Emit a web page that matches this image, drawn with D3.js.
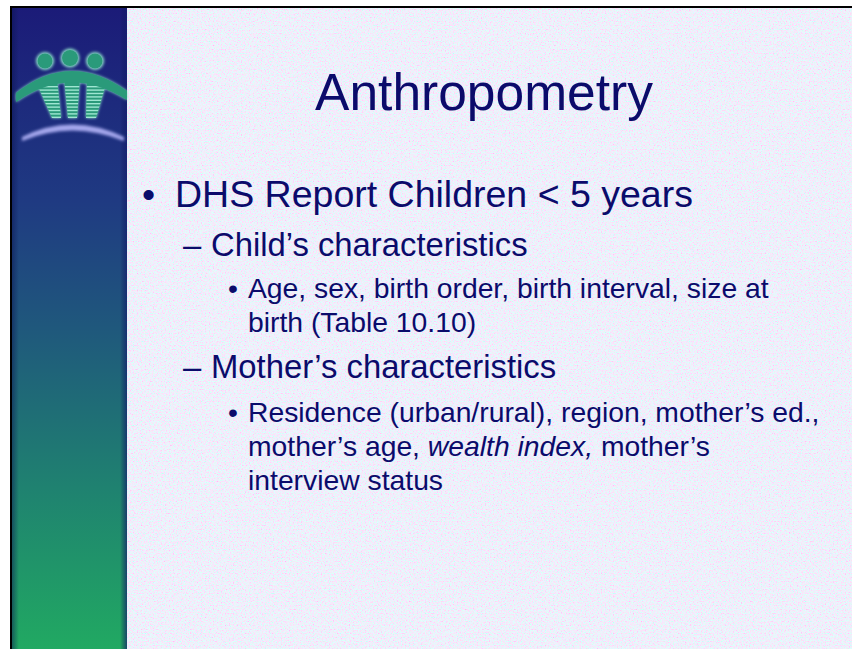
<!DOCTYPE html>
<html>
<head>
<meta charset="utf-8">
<script src="https://cdn.jsdelivr.net/npm/d3@7"></script>
<style>
  html, body { margin: 0; padding: 0; background: #fff; }
  text { font-family: "Liberation Sans", Arial, sans-serif; }
</style>
</head>
<body>
<div class="canvas"></div>
<script>
const svgWidth = 852;
const svgHeight = 649;

// slide content
const titleText = 'Anthropometry';
const lineLevels = [1, 2, 3, 3, 2, 3, 3, 3];
const lineMarks = [true, true, true, false, true, true, false, false];
const lineTexts = [
    [['DHS Report Children < 5 years', false]],
    [['Child\u2019s characteristics', false]],
    [['Age, sex, birth order, birth interval, size at', false]],
    [['birth (Table 10.10)', false]],
    [['Mother\u2019s characteristics', false]],
    [['Residence (urban/rural), region, mother\u2019s ed.,', false]],
    [['mother\u2019s age, ', false], ['wealth index,', true], [' mother\u2019s', false]],
    [['interview status', false]]
];
const baselines = [207, 256, 298, 332, 378, 422, 456, 490];

// per-level style
const levels = {
    1: { mark: '\u2022', markX: 142, textX: 175, size: 37.5 },
    2: { mark: '\u2013', markX: 183, textX: 211, size: 32.8 },
    3: { mark: '\u2022', markX: 228, textX: 248, size: 28.3 }
};

const ink = '#0b0b6b';

const svg = d3.select('.canvas')
    .append('svg')
        .attr('width', svgWidth)
        .attr('height', svgHeight);

const defs = svg.append('defs');

// speckled pink / cyan background
const noise = defs.append('filter')
    .attr('id', 'noise')
    .attr('x', 0).attr('y', 0).attr('width', '100%').attr('height', '100%');
noise.append('feTurbulence')
    .attr('type', 'fractalNoise')
    .attr('baseFrequency', 0.75)
    .attr('numOctaves', 1)
    .attr('seed', 7)
    .attr('result', 't');
noise.append('feColorMatrix')
    .attr('in', 't')
    .attr('type', 'matrix')
    .attr('values', '1.1 0 0 0 0.31  -1.1 0 0 0 1.42  0 0.3 0 0 0.81  0 0 0 0 1');

const barGrad = defs.append('linearGradient')
    .attr('id', 'bar')
    .attr('x1', 0).attr('y1', 0).attr('x2', 0).attr('y2', 1);
[[0, '#1b1b78'], [0.3, '#1f3a82'], [0.5, '#1f587c'], [0.75, '#1f8270'], [1, '#21a962']]
    .forEach(s => barGrad.append('stop').attr('offset', s[0]).attr('stop-color', s[1]));

const edgeGrad = defs.append('linearGradient')
    .attr('id', 'edge')
    .attr('x1', 0).attr('y1', 0).attr('x2', 1).attr('y2', 0);
[[0, 'rgba(10,20,80,0.5)'], [0.06, 'rgba(10,20,80,0)'], [0.94, 'rgba(10,20,80,0)'], [1, 'rgba(20,30,110,0.7)']]
    .forEach(s => edgeGrad.append('stop').attr('offset', s[0]).attr('stop-color', s[1]));

const glow = defs.append('filter').attr('id', 'glow')
    .attr('x', '-30%').attr('y', '-30%').attr('width', '160%').attr('height', '160%');
glow.append('feGaussianBlur').attr('stdDeviation', 1.6);

// slide background
svg.append('rect')
    .attr('x', 10).attr('y', 6)
    .attr('width', svgWidth - 10).attr('height', svgHeight - 6)
    .attr('fill', '#e2e7f8');
svg.append('rect')
    .attr('x', 127).attr('y', 8)
    .attr('width', svgWidth - 127).attr('height', svgHeight - 8)
    .attr('filter', 'url(#noise)');

// left bar
svg.append('rect')
    .attr('x', 12).attr('y', 8)
    .attr('width', 115).attr('height', svgHeight - 8)
    .attr('fill', 'url(#bar)');
svg.append('rect')
    .attr('x', 12).attr('y', 8)
    .attr('width', 115).attr('height', svgHeight - 8)
    .attr('fill', 'url(#edge)');

// black frame
svg.append('rect').attr('x', 10).attr('y', 6).attr('width', svgWidth - 10).attr('height', 2).attr('fill', '#000');
svg.append('rect').attr('x', 10).attr('y', 6).attr('width', 2).attr('height', svgHeight - 6).attr('fill', '#000');

// logo
const logo = svg.append('g').attr('class', 'logo');
const green = '#2a9a7a';
const light = '#8fe2cc';
const heads = [[45, 61, 7.5], [70, 58, 8], [95, 61, 7.5]];
const arms = 'M16,93 Q70,50 127,91 L127,100 Q70,64 16,102 Z';
const bodies = [
    'M37,84 L57,78 L61,118 L52,118 Z',
    'M64,78 L80,78 L77,118 L68,118 Z',
    'M87,78 L106,84 L96,118 L86,118 Z'
];

// glow layer
const glowG = logo.append('g').attr('filter', 'url(#glow)').attr('fill', light);
glowG.selectAll('circle')
    .data(heads).enter().append('circle')
    .attr('cx', d => d[0]).attr('cy', d => d[1]).attr('r', d => d[2] + 1.5);
glowG.append('path').attr('d', arms);
glowG.selectAll('path.b')
    .data(bodies).enter().append('path')
    .attr('d', d => d);

logo.selectAll('circle.head')
    .data(heads).enter().append('circle')
    .attr('cx', d => d[0]).attr('cy', d => d[1]).attr('r', d => d[2])
    .attr('fill', green);

// striped bodies
bodies.forEach((d, i) => {
    defs.append('clipPath').attr('id', 'body' + i).append('path').attr('d', d);
    const g = logo.append('g').attr('clip-path', `url(#body${i})`);
    g.append('rect').attr('x', 30).attr('y', 70).attr('width', 85).attr('height', 50).attr('fill', green);
    g.selectAll('rect.s')
        .data(d3.range(86, 118, 3.4)).enter().append('rect')
        .attr('x', 30).attr('y', y => y)
        .attr('width', 85).attr('height', 1.4)
        .attr('fill', '#9ee6d2');
});
logo.append('path').attr('d', arms).attr('fill', green);

logo.append('path')
    .attr('d', 'M22,137 Q72,112 124,137 L124,141 Q72,120 22,141 Z')
    .attr('fill', '#a6a8ee')
    .attr('filter', 'url(#glow)');

// title
svg.append('text')
    .attr('x', 484).attr('y', 110)
    .attr('text-anchor', 'middle')
    .attr('font-size', 51.5)
    .attr('fill', ink)
    .text(titleText);

// bullet lines
const body = svg.append('g').attr('class', 'body');
lineTexts.forEach((parts, i) => {
    const lv = levels[lineLevels[i]];
    if (lineMarks[i]) {
        body.append('text')
            .attr('x', lv.markX).attr('y', baselines[i])
            .attr('font-size', lv.size)
            .attr('fill', ink)
            .text(lv.mark);
    }
    const t = body.append('text')
        .attr('x', lv.textX).attr('y', baselines[i])
        .attr('font-size', lv.size)
        .attr('fill', ink)
        .style('white-space', 'pre');
    t.selectAll('tspan')
        .data(parts).enter().append('tspan')
        .attr('font-style', d => d[1] ? 'italic' : 'normal')
        .text(d => d[0]);
});
</script>
</body>
</html>
